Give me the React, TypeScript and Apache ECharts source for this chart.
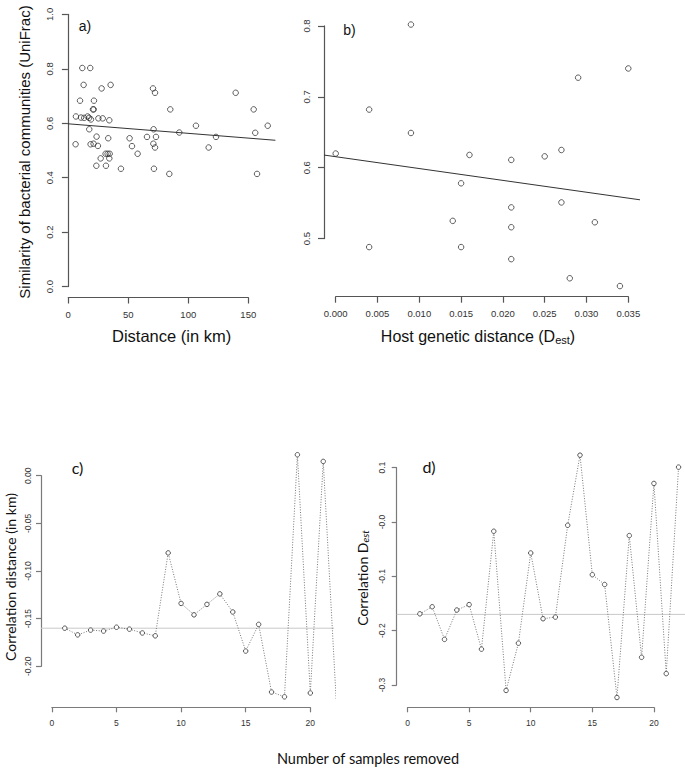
import React, { useEffect, useRef } from "react";
import * as echarts from "echarts";

// ---------- Panel a: similarity vs geographic distance ----------
const distanceKm = [11.7, 18.3, 12.8, 27.8, 35.3, 70.6, 72.3, 9.8, 21.4, 20.6, 21.2, 85.0, 6.4, 10.6, 13.3, 16.1, 17.4, 18.9, 25.1, 28.7, 34.2, 17.5, 71.1, 92.5, 6.1, 23.6, 33.3, 18.6, 21.1, 24.7, 51.1, 65.6, 73.1, 53.1, 70.9, 72.3, 57.8, 31.1, 32.8, 34.5, 27.0, 34.2, 23.4, 31.4, 43.9, 71.4, 84.2, 139.5, 154.5, 106.4, 123.1, 155.8, 166.2, 117.0, 157.3];
const similarityA = [0.803, 0.803, 0.741, 0.728, 0.741, 0.728, 0.712, 0.683, 0.683, 0.651, 0.651, 0.651, 0.625, 0.621, 0.62, 0.625, 0.62, 0.614, 0.618, 0.618, 0.611, 0.578, 0.578, 0.566, 0.523, 0.551, 0.545, 0.523, 0.525, 0.517, 0.545, 0.55, 0.55, 0.516, 0.525, 0.511, 0.488, 0.488, 0.488, 0.488, 0.471, 0.471, 0.444, 0.444, 0.433, 0.433, 0.414, 0.712, 0.651, 0.591, 0.55, 0.565, 0.591, 0.511, 0.414];
const fitAIntercept = 0.598;
const fitASlope = -0.00035;
const ticksAX = [0, 50, 100, 150];
const ticksAY = [0, 0.2, 0.4, 0.6, 0.8, 1.0];

// ---------- Panel b: similarity vs host genetic distance ----------
const hostDist = [0, 0.009, 0.004, 0.009, 0.016, 0.021, 0.015, 0.021, 0.014, 0.021, 0.004, 0.015, 0.021, 0.035, 0.029, 0.025, 0.027, 0.027, 0.031, 0.028, 0.034];
const similarityB = [0.62, 0.802, 0.682, 0.649, 0.618, 0.611, 0.578, 0.544, 0.525, 0.516, 0.488, 0.488, 0.471, 0.74, 0.727, 0.616, 0.625, 0.551, 0.523, 0.444, 0.433];
const fitBIntercept = 0.6155;
const fitBSlope = -1.67;
const ticksBX = [0, 0.005, 0.01, 0.015, 0.02, 0.025, 0.03, 0.035];
const ticksBY = [0.5, 0.6, 0.7, 0.8];

// ---------- Panel c: correlation (distance) vs samples removed ----------
const samplesC = [1, 2, 3, 4, 5, 6, 7, 8, 9, 10, 11, 12, 13, 14, 15, 16, 17, 18, 19, 20, 21, 22];
const corrDistance = [-0.16, -0.167, -0.162, -0.163, -0.159, -0.161, -0.165, -0.168, -0.081, -0.134, -0.146, -0.135, -0.124, -0.143, -0.184, -0.156, -0.227, -0.232, 0.022, -0.228, 0.015, -0.235];
const refC = -0.16;
const ticksCX = [0, 5, 10, 15, 20];
const ticksCY = [-0.2, -0.15, -0.1, -0.05, 0];

// ---------- Panel d: correlation (Dest) vs samples removed ----------
const samplesD = [1, 2, 3, 4, 5, 6, 7, 8, 9, 10, 11, 12, 13, 14, 15, 16, 17, 18, 19, 20, 21, 22];
const corrDest = [-0.169, -0.156, -0.216, -0.162, -0.152, -0.234, -0.017, -0.31, -0.223, -0.057, -0.178, -0.175, -0.006, 0.123, -0.097, -0.115, -0.323, -0.025, -0.249, 0.071, -0.279, 0.101];
const refD = -0.17;
const ticksDX = [0, 5, 10, 15, 20];
const ticksDY = [-0.3, -0.2, -0.1, 0, 0.1];

const FONT_R = "'Liberation Sans', Arial, sans-serif";
const FONT_W = "Lato, 'Open Sans', sans-serif";

type Rng = { xmin: number; xmax: number; ymin: number; ymax: number };
type Rect = { left: number; top: number; width: number; height: number };
const RA: Rng = { xmin: -0.3, xmax: 172.6, ymin: -0.04, ymax: 1.04 };
const RB: Rng = { xmin: -0.0014, xmax: 0.0364, ymin: 0.418, ymax: 0.817 };
const RC: Rng = { xmin: -0.84, xmax: 21.84, ymin: -0.243, ymax: 0.0318 };
const RD: Rng = { xmin: -0.88, xmax: 22.88, ymin: -0.341, ymax: 0.141 };
const GA: Rect = { left: 67.9, top: 3.5, width: 207.5, height: 294 };
const GB: Rect = { left: 324, top: 13.9, width: 316, height: 282.8 };
const GC: Rect = { left: 41, top: 445.4, width: 293.1, height: 261.9 };
const GD: Rect = { left: 396.7, top: 445.4, width: 292.7, height: 261.9 };

type PanelCfg = {
  g: Rect; r: Rng; tx: number[]; ty: number[];
  fx: (v: number) => string; fy: (v: number) => string;
  fs: number; mx: number; my: number; tl: number; col: string;
};

function buildPanel(p: PanelCfg, grids: any[], xs: any[], ys: any[]) {
  const main = grids.length;
  grids.push({ ...p.g, outerBoundsMode: "none", containLabel: false });
  xs.push({ type: "value", gridIndex: main, min: p.r.xmin, max: p.r.xmax, show: false, splitLine: { show: false } });
  ys.push({ type: "value", gridIndex: main, min: p.r.ymin, max: p.r.ymax, show: false, splitLine: { show: false } });

  const axLine = { show: true, onZero: false, lineStyle: { color: p.col, width: 1.2 } };
  const axTick = { show: true, inside: false, length: p.tl, lineStyle: { color: p.col, width: 1.2 } };

  // x-axis frame: spans only from first to last tick, as in R
  const tx0 = p.tx[0], txN = p.tx[p.tx.length - 1];
  const sx = p.g.width / (p.r.xmax - p.r.xmin);
  const gx = grids.length;
  grids.push({ left: p.g.left + (tx0 - p.r.xmin) * sx, width: (txN - tx0) * sx, top: p.g.top, height: p.g.height, outerBoundsMode: "none", containLabel: false });
  xs.push({
    type: "value", gridIndex: gx, min: tx0, max: txN, interval: p.tx[1] - p.tx[0], position: "bottom",
    splitLine: { show: false }, axisLine: axLine, axisTick: axTick,
    axisLabel: { formatter: p.fx, fontSize: p.fs, fontFamily: FONT_R, color: "#333", margin: p.mx, showMinLabel: true, showMaxLabel: true, hideOverlap: false },
  });
  ys.push({ type: "value", gridIndex: gx, min: 0, max: 1, show: false, splitLine: { show: false } });

  // y-axis frame
  const ty0 = p.ty[0], tyN = p.ty[p.ty.length - 1];
  const sy = p.g.height / (p.r.ymax - p.r.ymin);
  const gy = grids.length;
  grids.push({ left: p.g.left, width: p.g.width, top: p.g.top + (p.r.ymax - tyN) * sy, height: (tyN - ty0) * sy, outerBoundsMode: "none", containLabel: false });
  xs.push({ type: "value", gridIndex: gy, min: 0, max: 1, show: false, splitLine: { show: false } });
  ys.push({
    type: "value", gridIndex: gy, min: ty0, max: tyN, interval: p.ty[1] - p.ty[0], position: "left",
    splitLine: { show: false }, axisLine: axLine, axisTick: axTick,
    axisLabel: { formatter: p.fy, fontSize: p.fs, fontFamily: FONT_R, color: "#333", margin: p.my, rotate: 90, showMinLabel: true, showMaxLabel: true, hideOverlap: false },
  });
  return main;
}

export default function App() {
  const ref = useRef<HTMLDivElement>(null);
  useEffect(() => {
    if (!ref.current) return;
    const chart = echarts.init(ref.current, undefined, { renderer: "svg" });
    const AX1 = "#555";
    const AX2 = "#7a7a7a";
    const grids: any[] = [];
    const xs: any[] = [];
    const ys: any[] = [];
    const ia = buildPanel({ g: GA, r: RA, tx: ticksAX, ty: ticksAY, fx: (v) => String(Math.round(v)), fy: (v) => v.toFixed(1), fs: 9.5, mx: 12, my: 13, tl: 6, col: AX1 }, grids, xs, ys);
    const ib = buildPanel({ g: GB, r: RB, tx: ticksBX, ty: ticksBY, fx: (v) => v.toFixed(3), fy: (v) => v.toFixed(1), fs: 9.5, mx: 12, my: 13, tl: 6, col: AX1 }, grids, xs, ys);
    const ic = buildPanel({ g: GC, r: RC, tx: ticksCX, ty: ticksCY, fx: (v) => String(Math.round(v)), fy: (v) => v.toFixed(2), fs: 8.5, mx: 11, my: 9, tl: 5, col: AX2 }, grids, xs, ys);
    const id = buildPanel({ g: GD, r: RD, tx: ticksDX, ty: ticksDY, fx: (v) => String(Math.round(v)), fy: (v) => v.toFixed(1), fs: 8.5, mx: 11, my: 10, tl: 5, col: AX2 }, grids, xs, ys);

    const scatterStyle = { color: "rgba(0,0,0,0)", borderColor: "#222", borderWidth: 0.9 };
    const option: any = {
      animation: false,
      backgroundColor: "#fff",
      grid: grids,
      xAxis: xs,
      yAxis: ys,
      series: [
        {
          type: "scatter", xAxisIndex: ia, yAxisIndex: ia, symbol: "circle", symbolSize: 5.5,
          itemStyle: scatterStyle, data: distanceKm.map((d, i) => [d, similarityA[i]]),
        },
        {
          type: "line", xAxisIndex: ia, yAxisIndex: ia, symbol: "none", silent: true,
          lineStyle: { color: "#333", width: 1 },
          data: [RA.xmin, RA.xmax].map((x) => [x, fitAIntercept + fitASlope * x]),
        },
        {
          type: "scatter", xAxisIndex: ib, yAxisIndex: ib, symbol: "circle", symbolSize: 5.5,
          itemStyle: scatterStyle, data: hostDist.map((d, i) => [d, similarityB[i]]),
        },
        {
          type: "line", xAxisIndex: ib, yAxisIndex: ib, symbol: "none", silent: true,
          lineStyle: { color: "#333", width: 1 },
          data: [RB.xmin, RB.xmax].map((x) => [x, fitBIntercept + fitBSlope * x]),
        },
        {
          type: "line", xAxisIndex: ic, yAxisIndex: ic, symbol: "none", silent: true,
          lineStyle: { color: "#c8c8c8", width: 1 },
          data: [[RC.xmin, refC], [RC.xmax, refC]],
        },
        {
          type: "line", xAxisIndex: ic, yAxisIndex: ic, symbol: "circle", symbolSize: 4.5, clip: true,
          lineStyle: { color: "#777", width: 1, type: [1, 1.6] },
          itemStyle: { color: "#fff", borderColor: "#555", borderWidth: 1 },
          data: samplesC.map((n, i) => [n, corrDistance[i]]),
        },
        {
          type: "line", xAxisIndex: id, yAxisIndex: id, symbol: "none", silent: true,
          lineStyle: { color: "#c8c8c8", width: 1 },
          data: [[RD.xmin, refD], [RD.xmax, refD]],
        },
        {
          type: "line", xAxisIndex: id, yAxisIndex: id, symbol: "circle", symbolSize: 4.5, clip: true,
          lineStyle: { color: "#777", width: 1, type: [1, 1.6] },
          itemStyle: { color: "#fff", borderColor: "#555", borderWidth: 1 },
          data: samplesD.map((n, i) => [n, corrDest[i]]),
        },
      ],
      graphic: [
        { type: "text", x: 85, y: 26, style: { text: "a)", font: `14px ${FONT_R}`, fill: "#111", textAlign: "center", textVerticalAlign: "middle" } },
        { type: "text", x: 349.5, y: 29.5, style: { text: "b)", font: `14px ${FONT_R}`, fill: "#111", textAlign: "center", textVerticalAlign: "middle" } },
        { type: "text", x: 24, y: 152, rotation: Math.PI / 2, style: { text: "Similarity of bacterial communities (UniFrac)", font: `15px ${FONT_R}`, fill: "#111", textAlign: "center", textVerticalAlign: "middle" } },
        { type: "text", x: 171.6, y: 336, style: { text: "Distance (in km)", font: `16.5px ${FONT_R}`, fill: "#111", textAlign: "center", textVerticalAlign: "middle" } },
        {
          type: "text", x: 478, y: 336,
          style: {
            text: "Host genetic distance (D{sub|est})", font: `16px ${FONT_R}`, fill: "#111", textAlign: "center", textVerticalAlign: "middle",
            rich: { sub: { fontSize: 11, fontFamily: FONT_R, fill: "#111", verticalAlign: "bottom", padding: [7, 0, 0, 0] } },
          },
        },
        { type: "text", x: 77.5, y: 467, style: { text: "c)", font: `16px ${FONT_W}`, fill: "#111", textAlign: "center", textVerticalAlign: "middle" } },
        { type: "text", x: 429, y: 466, style: { text: "d)", font: `16px ${FONT_W}`, fill: "#111", textAlign: "center", textVerticalAlign: "middle" } },
        { type: "text", x: 10, y: 577, rotation: Math.PI / 2, style: { text: "Correlation distance (in km)", font: `14px ${FONT_W}`, fill: "#111", textAlign: "center", textVerticalAlign: "middle" } },
        {
          type: "text", x: 362, y: 578, rotation: Math.PI / 2,
          style: {
            text: "Correlation D{sub|est}", font: `14px ${FONT_W}`, fill: "#111", textAlign: "center", textVerticalAlign: "middle",
            rich: { sub: { fontSize: 10, fontFamily: FONT_W, fontStyle: "italic", fill: "#111", verticalAlign: "bottom", padding: [6, 0, 0, 0] } },
          },
        },
        { type: "text", x: 368, y: 758, style: { text: "Number of samples removed", font: `14.5px ${FONT_W}`, fill: "#111", textAlign: "center", textVerticalAlign: "middle" } },
      ],
    };
    chart.setOption(option);
    return () => chart.dispose();
  }, []);
  return <div ref={ref} style={{ position: "fixed", left: 0, top: 0, width: 685, height: 768, background: "#fff" }} />;
}
